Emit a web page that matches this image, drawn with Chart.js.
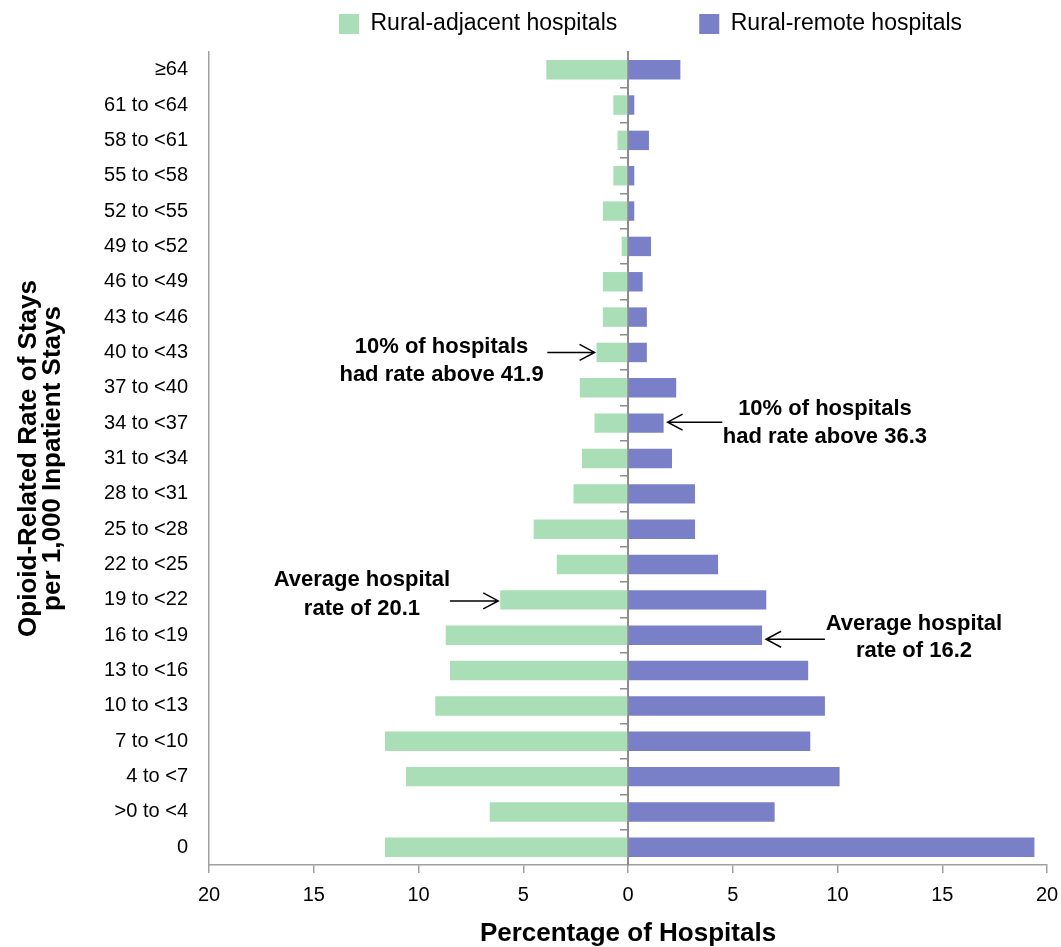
<!DOCTYPE html>
<html>
<head>
<meta charset="utf-8">
<script src="https://cdn.jsdelivr.net/npm/chart.js@4.4.1/dist/chart.umd.min.js"></script>
<style>
html,body{margin:0;padding:0;background:#ffffff;}
#wrap{width:1061px;height:947px;position:relative;}
</style>
</head>
<body>
<div id="wrap"><canvas id="c" width="1061" height="947"></canvas></div>
<script>
// ---------- data ----------
const categories = ['≥64','61 to <64','58 to <61','55 to <58','52 to <55','49 to <52','46 to <49','43 to <46','40 to <43','37 to <40','34 to <37','31 to <34','28 to <31','25 to <28','22 to <25','19 to <22','16 to <19','13 to <16','10 to <13','7 to <10','4 to <7','>0 to <4','0'];
const ruralAdjacent = [3.9,0.7,0.5,0.7,1.2,0.3,1.2,1.2,1.5,2.3,1.6,2.2,2.6,4.5,3.4,6.1,8.7,8.5,9.2,11.6,10.6,6.6,11.6];
const ruralRemote   = [2.5,0.3,1.0,0.3,0.3,1.1,0.7,0.9,0.9,2.3,1.7,2.1,3.2,3.2,4.3,6.6,6.4,8.6,9.4,8.7,10.1,7.0,19.4];
const seriesNames = ['Rural-adjacent hospitals','Rural-remote hospitals'];
const xTickValues = [-20,-15,-10,-5,0,5,10,15,20];
const xTitle = 'Percentage of Hospitals';
const yTitle = ['Opioid-Related Rate of Stays','per 1,000 Inpatient Stays'];
const noteTexts = [
  ['10% of hospitals','had rate above 41.9'],
  ['10% of hospitals','had rate above 36.3'],
  ['Average hospital','rate of 20.1'],
  ['Average hospital','rate of 16.2']
];
const noteCategories = ['40 to <43','34 to <37','19 to <22','16 to <19'];
const noteSeries = [0,1,0,1];

// ---------- styling / placement ----------
const FONT = '"Liberation Sans", Arial, Helvetica, sans-serif';
const GREEN = 'rgb(169,222,183)';
const PURPLE = 'rgb(121,128,199)';
const AXIS = '#a0a0a0';
const LEGEND_START_X = 339, LEGEND_TEXT_Y = 24, LEGEND_HEIGHT = 52;
// text centre (x in axis units), line offsets (px from category centre), arrow tail (axis units), arrow y offset (px), gap at tip (px)
const notePlace = [
  {tx:-8.9, lines:[-6,22], tail:-3.85, ay:0, gap:2},
  {tx:9.4,  lines:[-14,14], tail:4.5, ay:-1, gap:4},
  {tx:-12.7,lines:[-20,9], tail:-8.5, ay:1, gap:2},
  {tx:13.65,lines:[-11,16], tail:9.4, ay:4, gap:4}
];

const notesPlugin = {
  id:'notes',
  beforeLayout(chart){
    const lg = chart.legend;
    if(lg && !lg._fixedFit){
      const orig = lg.fit.bind(lg);
      lg.fit = function(){ orig(); this.height = LEGEND_HEIGHT; };
      lg._fixedFit = true;
    }
  },
  afterLayout(chart){
    const lg = chart.legend;
    if(!lg || !lg.lineWidths) return;
    const pad = lg.options.labels.padding;
    const natural = (lg.left + pad + lg.right - lg.lineWidths[0]) / 2;
    const d = LEGEND_START_X - natural;
    lg.left += d; lg.right += d;
    const fs = lg.options.labels.font.size;
    const itemH = Math.max(fs, lg.options.labels.boxHeight);
    lg.top = LEGEND_TEXT_Y - pad - itemH / 2;   // bottom stays at the chart-area top
  },
  afterDraw(chart){
    const ctx = chart.ctx;
    const xs = chart.scales.x, ys = chart.scales.y;
    ctx.save();
    ctx.fillStyle = '#000';
    ctx.strokeStyle = '#000';
    ctx.lineWidth = 1.5;
    ctx.font = 'bold 22px ' + FONT;
    ctx.textAlign = 'center';
    ctx.textBaseline = 'middle';
    noteTexts.forEach((lines, i) => {
      const p = notePlace[i];
      const idx = categories.indexOf(noteCategories[i]);
      const cy = ys.getPixelForValue(idx);
      const tx = xs.getPixelForValue(p.tx);
      lines.forEach((t, k) => ctx.fillText(t, tx, cy + p.lines[k]));
      const side = noteSeries[i] === 0 ? -1 : 1;
      const end = noteSeries[i] === 0 ? -ruralAdjacent[idx] : ruralRemote[idx];
      const tip = xs.getPixelForValue(end) + side * p.gap;
      const tail = xs.getPixelForValue(p.tail);
      const ay = cy + p.ay;
      const dir = tip > tail ? 1 : -1;
      ctx.beginPath();
      ctx.moveTo(tail, ay); ctx.lineTo(tip, ay);
      ctx.moveTo(tip - dir * 15, ay - 8); ctx.lineTo(tip, ay); ctx.lineTo(tip - dir * 15, ay + 8);
      ctx.stroke();
    });
    ctx.restore();
  }
};

Chart.defaults.font.family = FONT;
Chart.defaults.color = '#000';

new Chart(document.getElementById('c'), {
  type:'bar',
  data:{
    labels: categories,
    datasets:[
      {label: seriesNames[0], data: ruralAdjacent.map(v => -v), backgroundColor: GREEN, borderWidth:0, xAxisID:'x', yAxisID:'y', barPercentage:0.55, categoryPercentage:1},
      {label: seriesNames[1], data: ruralRemote, backgroundColor: PURPLE, borderWidth:0, xAxisID:'x', yAxisID:'y', barPercentage:0.55, categoryPercentage:1}
    ]
  },
  options:{
    indexAxis:'y',
    responsive:false,
    devicePixelRatio:1,
    animation:false,
    layout:{padding:{top:0,right:14,bottom:0,left:0}},
    plugins:{
      tooltip:{enabled:false},
      legend:{
        position:'top',
        labels:{font:{size:23}, boxWidth:20, boxHeight:20, padding:82, color:'#000'}
      }
    },
    scales:{
      y:{
        type:'category',
        position:'left',
        stacked:true,
        offset:true,
        grid:{display:false, drawTicks:false},
        border:{display:true, color:AXIS, width:1.5},
        ticks:{font:{size:20}, color:'#000', padding:21, autoSkip:false},
        title:{display:true, text:yTitle, font:{size:26, weight:'bold', lineHeight:0.95}, padding:{top:16,bottom:0}, color:'#000'},
        afterFit(s){ s.width = 209; s.paddingTop = 0; s.paddingBottom = 0; }
      },
      x:{
        type:'linear',
        position:'bottom',
        stacked:true,
        min:-20, max:20,
        afterBuildTicks(s){ s.ticks = xTickValues.map(v => ({value:v})); },
        grid:{display:true, drawOnChartArea:false, drawTicks:true, tickLength:8, color:AXIS, lineWidth:1.5},
        border:{display:true, color:AXIS, width:1.5},
        ticks:{font:{size:20}, color:'#000', padding:10, callback:v => String(Math.abs(v))},
        title:{display:true, text:xTitle, font:{size:26, weight:'bold', lineHeight:1.0}, padding:{top:0,bottom:0}, color:'#000'},
        afterFit(s){ s.height = 82; s.paddingLeft = 0; s.paddingRight = 0; }
      },
      y2:{
        type:'category',
        axis:'y',
        position:{x:0},
        offset:true,
        z:1,
        grid:{display:true, offset:true, drawOnChartArea:false, drawTicks:true, tickLength:7, lineWidth:1.5,
              color: c => (c.index === undefined || c.index === 0) ? 'rgba(0,0,0,0)' : '#8c8c8c'},
        border:{display:true, color:'#8c8c8c', width:2},
        ticks:{display:false}
      }
    }
  },
  plugins:[notesPlugin]
});
</script>
</body>
</html>
